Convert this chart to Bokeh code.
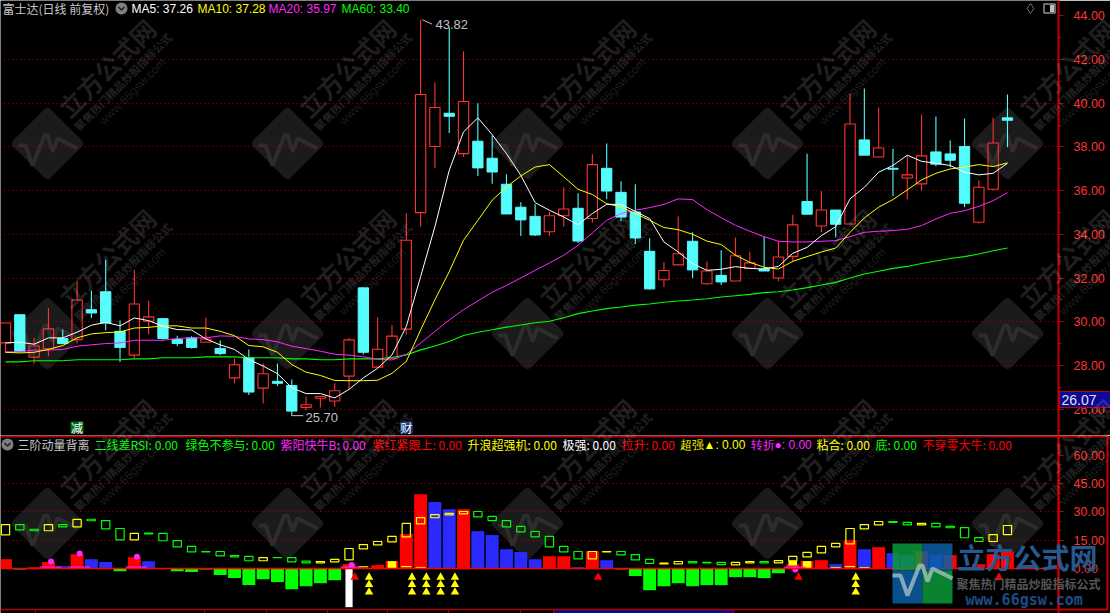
from bokeh.plotting import figure
from bokeh.layouts import column
from bokeh.models import Range1d, LinearAxis, FixedTicker, Grid, Span, Label, NumeralTickFormatter
from bokeh.embed import file_html
from bokeh.resources import INLINE
import math

# ---------------- data ----------------
open_ = [29.03,30.32,28.38,28.76,29.23,29.18,30.55,31.37,29.56,28.47,30.02,30.14,29.18,29.26,29.06,28.77,27.43,28.35,26.96,27.27,27.08,26.08,26.50,26.37,27.51,31.55,
         27.92,28.33,29.66,34.99,38.02,39.54,37.69,38.26,37.48,36.29,35.24,34.82,34.12,34.85,35.19,34.72,37.02,35.92,35.02,33.22,31.92,32.60,33.68,31.74,32.12,31.86,
         32.44,32.41,32.00,32.99,35.50,34.38,35.11,34.47,38.32,37.54,37.02,36.58,36.31,37.77,37.68,38.02,34.55,36.06,39.33]
close = [29.94,28.65,28.89,29.67,29.00,30.99,30.40,29.94,28.82,30.81,30.22,29.23,29.00,28.82,29.21,28.54,28.03,26.78,27.62,27.18,25.91,26.20,26.58,26.84,29.17,28.60,
         28.74,29.34,33.73,40.40,39.80,39.40,40.08,37.04,36.85,34.93,34.66,33.97,34.85,35.16,33.69,37.19,35.98,34.79,33.83,31.50,32.34,33.11,32.37,32.32,31.82,33.02,
         32.69,32.32,32.96,34.43,34.92,35.11,34.46,39.05,37.62,37.95,36.98,36.72,37.59,37.21,37.39,35.42,36.15,38.18,39.22]
high = [29.94,30.32,29.26,30.63,29.64,31.87,31.42,32.83,30.05,32.37,30.96,30.14,29.36,29.33,30.19,29.14,28.32,28.73,28.09,28.09,27.36,26.58,26.58,27.18,29.27,31.55,
        30.20,29.85,34.96,43.82,40.96,43.47,42.38,40.00,38.52,36.75,35.47,35.37,35.02,36.15,35.88,37.66,38.15,36.43,36.29,33.82,32.72,34.82,34.09,32.75,33.27,33.85,
        33.20,33.89,33.71,34.90,37.69,35.97,35.11,40.44,40.67,39.80,37.92,37.60,39.48,39.39,38.29,39.30,36.46,39.34,40.40]
low = [28.57,28.60,28.07,28.42,29.00,29.00,30.17,29.60,28.15,28.32,29.41,29.18,28.88,28.77,29.06,28.47,27.18,26.64,26.26,27.05,25.70,25.95,26.07,26.11,26.90,28.50,
       27.92,28.33,29.40,34.34,37.04,38.64,37.54,36.67,36.31,34.93,33.92,33.92,33.92,34.34,33.60,34.53,35.60,34.61,33.56,31.47,31.59,32.60,32.00,31.69,31.68,31.86,
       32.41,32.32,31.85,32.72,34.92,34.09,33.86,34.47,37.62,37.54,35.74,35.59,36.00,37.11,37.07,35.24,34.50,36.00,37.98]
ma5 = [29.03,29.06,28.97,29.26,29.26,29.52,29.84,29.97,29.81,30.17,30.05,29.79,29.64,29.62,29.21,28.94,28.73,28.27,27.97,27.62,26.98,26.71,26.71,26.51,26.90,27.43,
       27.87,28.48,29.78,32.06,34.35,36.93,38.69,39.33,38.56,37.69,36.70,35.45,35.10,34.79,34.44,34.95,35.37,35.37,35.05,34.72,33.65,33.19,32.66,32.35,32.40,32.52,
       32.44,32.41,32.53,33.13,33.40,33.94,34.35,35.62,36.15,36.84,37.15,37.62,37.34,37.25,37.15,36.84,36.72,36.79,37.25]
ma10 = [28.60,28.57,28.60,28.73,28.91,29.26,29.44,29.50,29.53,29.71,29.74,29.81,29.81,29.71,29.71,29.56,29.36,28.91,28.85,28.60,28.04,27.69,27.54,27.31,27.30,27.30,
        27.32,27.64,28.18,29.62,31.00,32.29,33.73,34.64,35.56,36.17,36.67,37.08,37.19,36.63,36.06,35.82,35.40,35.25,34.95,34.64,34.31,34.21,34.00,33.69,33.53,33.04,
        32.72,32.49,32.41,32.76,32.98,33.19,33.37,34.09,34.75,35.24,35.59,36.03,36.49,36.79,36.99,37.08,37.19,37.10,37.27]
ma20 = [28.62,28.62,28.70,28.70,28.73,28.88,28.94,29.00,29.03,29.15,29.15,29.15,29.23,29.26,29.26,29.35,29.33,29.21,29.18,29.08,28.88,28.77,28.65,28.51,28.47,28.39,
        28.28,28.25,28.51,29.02,29.55,30.08,30.55,30.95,31.35,31.66,32.00,32.35,32.69,33.04,33.50,34.06,34.64,34.95,35.10,35.22,35.37,35.62,35.59,35.13,34.76,34.41,
        34.14,33.89,33.68,33.65,33.65,33.68,33.71,33.89,34.09,34.14,34.17,34.23,34.40,34.70,34.96,35.08,35.28,35.54,35.91]
ma60 = [28.16,28.16,28.21,28.21,28.21,28.26,28.26,28.26,28.26,28.30,28.30,28.35,28.35,28.35,28.39,28.39,28.39,28.35,28.35,28.35,28.30,28.30,28.26,28.26,28.30,28.30,
        28.30,28.36,28.48,28.71,28.89,29.09,29.37,29.52,29.63,29.75,29.85,29.95,30.02,30.18,30.37,30.49,30.60,30.67,30.76,30.81,30.89,30.95,30.99,31.05,31.13,31.19,
        31.25,31.33,31.37,31.45,31.56,31.68,31.80,32.00,32.18,32.31,32.44,32.53,32.66,32.78,32.89,32.98,33.10,33.25,33.37]

hist = [4.95,-0.5,0.7,3.4,1.2,7.6,4.95,3.4,-1.4,6.0,3.9,0.0,-1.4,-1.9,-0.5,-3.5,-5.1,-8.8,-5.7,-7.2,-11.0,-9.4,-7.8,-6.2,2.3,0.0,
        1.8,3.9,18.2,39.4,35.2,31.4,31.4,19.8,17.7,10.2,8.7,4.9,6.5,6.5,0.7,9.2,4.4,-0.5,-4.0,-11.5,-9.4,-7.8,-9.4,-8.8,-8.8,-4.6,
        -4.6,-5.1,-2.5,2.3,3.9,4.4,2.3,15.0,10.2,11.3,8.1,7.1,9.2,7.1,7.1,0.7,2.3,7.6,9.2]
hist_kind = ["r","g","r","r","b","r","b","b","g","r","b","x","g","g","g","g","g","g","g","g","g","g","g","g","r","x",
             "r","r","r","r","b","b","r","b","b","b","b","b","r","r","b","r","b","g","g","g","g","g","g","g","g","g",
             "g","g","g","r","r","r","b","r","b","r","b","b","r","b","r","b","r","r","r"]

box_top = [23.3,23.3,20.8,23.3,23.3,26.0,26.1,25.4,21.2,18.6,18.7,18.6,14.8,11.7,9.0,9.0,6.9,6.4,5.8,5.8,5.8,3.9,3.7,4.8,10.6,12.7,
           14.3,17.0,23.9,27.0,28.6,29.2,30.2,30.2,27.6,25.4,22.3,19.6,17.0,11.7,9.0,9.0,9.0,9.0,7.4,4.8,2.8,3.7,3.7,3.2,3.2,3.2,
           3.7,3.7,4.2,6.4,8.5,11.7,13.3,21.2,23.3,24.9,24.9,24.4,23.9,23.9,22.3,21.7,16.4,18.0,22.8]
box_bot = [17.8,20.5,20.0,20.0,22.1,22.1,25.3,21.0,15.2,15.2,18.4,14.7,11.5,8.8,8.8,6.7,6.2,4.1,4.1,5.7,3.5,3.0,3.0,3.5,4.6,10.4,
           12.5,14.1,16.8,23.7,26.9,28.4,29.0,27.4,25.4,22.1,19.4,16.8,11.5,8.8,5.1,5.1,8.8,7.2,4.6,2.7,2.5,2.5,3.0,3.0,2.1,1.9,
           3.0,3.0,3.0,4.1,6.2,8.3,11.5,13.1,21.0,23.1,24.4,23.1,23.1,22.1,21.6,16.3,14.3,14.3,18.0]
box_kind = ["y","g","g","y","g","y","g","g","g","y","g","g","g","g","g","g","g","g","y","g","g","g","y","y","y","y",
            "y","y","y","y","y","y","y","g","g","g","g","g","g","g","g","y","y","g","g","g","y","y","g","g","g","y",
            "y","g","y","y","y","y","y","y","y","y","g","g","y","g","g","g","g","y","y"]

main_ticks = [26, 28, 30, 32, 34, 36, 38, 40, 42, 44]
lower_ticks = [0, 15, 30, 45, 60]
triple_days = [25, 28, 29, 30, 31, 59]
triple_levels = [-4.6, -8.5, -12.5]
red_tri_days = [24, 41, 55, 69]
dot_days = [3, 5, 9, 24, 55]
dot_vals = [3.7, 7.95, 6.2, 1.8, -0.5]
thin_days = [25, 28, 29, 58, 59, 60]
thin_vals = [0.9, 1.0, 0.5, 0.5, 1.0, 0.5]
solid_days = [27, 55, 56]
solid_top = [3.9, 4.1, 3.9]
solid_bot = [0.2, 1.6, 0.2]
spike_day = 24
spike_val = -20.5

CJK = "Noto Sans CJK SC"
lower_legend = [("二线差RSI: 0.00", 94, "#00ff00", CJK), ("绿色不参与: 0.00", 185, "#00ff00", CJK), ("紫阳快牛B: 0.00", 280, "#ff28ff", CJK),
                ("紫红紧跟上: 0.00", 372, "#ff0000", CJK), ("升浪超强机: 0.00", 467, "#ffff00", CJK), ("极强: 0.00", 562, "#ffffff", CJK),
                ("拉升: 0.00", 621, "#ff0000", CJK), ("超强▲: 0.00", 679, "#ffff00", "Liberation Sans"), ("转折●: 0.00", 750, "#ff28ff", "Liberation Sans"),
                ("粘合: 0.00", 816, "#ffff00", CJK), ("底: 0.00", 875, "#00ff00", CJK), ("不穿零大牛: 0.00", 922, "#ff0000", CJK)]
ma_legend = [("MA5: 37.26", 131, "#ffffff"), ("MA10: 37.28", 197, "#ffff00"),
             ("MA20: 35.97", 268, "#ff28ff"), ("MA60: 33.40", 341, "#00ff00")]

# ---------------- geometry (page pixels -> data) ----------------
def xd(px):
    return (px - 5) / 14.314
def ym(py):
    return 44 - (py - 15.3) / 21.85
def yl(py):
    return (568 - py) / 1.887

RED = "#ff3232"; CYAN = "#54fcfc"; DARK = "#c00000"; GRID = "#a80000"
days = list(range(len(close)))
xr = Range1d(xd(0), xd(1058))

def base(height, y0, y1):
    p = figure(width=1110, height=height, x_range=xr, y_range=Range1d(y0, y1), toolbar_location=None,
               output_backend="svg", x_axis_type=None, y_axis_type=None, min_border_left=0, min_border_top=0,
               min_border_bottom=0, min_border_right=52, background_fill_color="#000000",
               border_fill_color="#000000", outline_line_color=None)
    p.xgrid.visible = False
    p.ygrid.visible = False
    return p

def add_axis(p, ticks, minor, grid_ticks):
    ax = LinearAxis(ticker=FixedTicker(ticks=ticks, minor_ticks=minor), axis_line_color=DARK, axis_line_width=2,
                    major_tick_line_color=DARK, minor_tick_line_color=DARK, major_tick_in=0, major_tick_out=5,
                    minor_tick_in=0, minor_tick_out=3, major_label_text_color=RED,
                    major_label_text_font="Liberation Sans", major_label_text_font_size="12.5px",
                    major_label_standoff=10, formatter=NumeralTickFormatter(format="0.00"))
    p.add_layout(ax, "right")
    p.add_layout(Grid(dimension=1, ticker=FixedTicker(ticks=grid_ticks), grid_line_color=GRID,
                      grid_line_dash="1 3", grid_line_width=1))

def diamonds(p, yf, rows):
    for cy in rows:
        for cx in [47, 287, 527, 767, 1007]:
            p.rect([xd(cx)], [yf(cy)], width=44, height=44, width_units="screen", height_units="screen",
                   angle=math.pi/4, fill_color="#1b1b1b", line_color="#1b1b1b", line_width=9,
                   line_join="round", level="underlay")
            pts = [(-29,2),(-22,2),(-15,22),(-3,-8),(0,-8),(5,8),(10,-5),(30,5)]
            p.line([xd(cx+a) for a, b in pts], [yf(cy+b) for a, b in pts], line_color="#2d2d2d",
                   line_width=4, level="underlay")

def put(p, txt, x, y, col, size=12, font=CJK, style="normal", align="left"):
    p.add_layout(Label(x=x, y=y, text=txt, text_color=col, text_font=font, text_font_size=f"{size}px",
                       text_font_style=style, text_align=align, text_baseline="middle", level="overlay"))

# ---------------- main panel ----------------
p1 = base(435, ym(435), ym(0))
diamonds(p1, ym, [143, 333])
add_axis(p1, main_ticks, list(range(25, 45)), main_ticks[:-1])

up = [i for i in days if close[i] >= open_[i]]
dn = [i for i in days if close[i] < open_[i]]
WC = 0.72
p1.segment(up, [close[i] for i in up], up, [high[i] for i in up], line_color=RED, line_width=1.1)
p1.segment(up, [open_[i] for i in up], up, [low[i] for i in up], line_color=RED, line_width=1.1)
p1.vbar(up, WC, [open_[i] for i in up], [close[i] for i in up], fill_color=None, line_color=RED, line_width=1.1)
p1.segment(dn, [high[i] for i in dn], dn, [low[i] for i in dn], line_color=CYAN, line_width=1.1)
p1.vbar(dn, WC, [close[i] for i in dn], [open_[i] for i in dn], fill_color=CYAN, line_color=CYAN, line_width=1)

p1.line(days, ma60, line_color="#00ff00", line_width=1.1)
p1.line(days, ma20, line_color="#ff28ff", line_width=1)
p1.line(days, ma10, line_color="#ffff00", line_width=1)
p1.line(days, ma5, line_color="#ffffff", line_width=1)

hi = max(high); hi_i = high.index(hi)
lo = min(low); lo_i = low.index(lo)
p1.segment([hi_i + .12], [hi], [hi_i + .8], [hi - .2], line_color="#c0c0c0", line_width=1)
put(p1, f"{hi:.2f}", xd(435), ym(24), "#c0c0c0", 13, "Liberation Sans")
p1.segment([lo_i], [lo], [lo_i + .8], [lo], line_color="#c0c0c0", line_width=1)
put(p1, f"{lo:.2f}", xd(305), ym(417), "#c0c0c0", 13, "Liberation Sans")

put(p1, "富士达(日线 前复权)", xd(2), ym(8), "#c8c8c8", 12)
p1.scatter([xd(121)], [ym(8)], size=12, marker="circle", fill_color="#808080", line_color=None)
p1.line([xd(118), xd(121), xd(124)], [ym(6.5), ym(9.5), ym(6.5)], line_color="#1a1a1a", line_width=1.5)
for t, x, c in ma_legend:
    put(p1, t, xd(x), ym(8), c, 12, "Liberation Sans")
p1.scatter([xd(1030)], [ym(8)], size=10, marker="diamond", fill_color=None, line_color="#707070")
p1.rect([xd(1049)], [ym(8)], width=11, height=9, width_units="screen", height_units="screen",
        fill_color=None, line_color="#909090", line_width=1.5)
p1.rect([xd(1051.5)], [ym(8)], width=4, height=7, width_units="screen", height_units="screen",
        fill_color="#c0c0c0", line_color=None)

p1.rect([xd(76.5)], [ym(427)], width=13, height=12, width_units="screen", height_units="screen",
        fill_color="#006a14", line_color=None)
put(p1, "减", xd(76.5), ym(427), "#ffffff", 12, align="center")
p1.rect([xd(406)], [ym(427)], width=13, height=12, width_units="screen", height_units="screen",
        fill_color="#12306e", line_color=None)
put(p1, "财", xd(406), ym(427), "#ffffff", 12, align="center")

# ---------------- lower panel ----------------
p2 = base(178, yl(613), yl(435))
diamonds(p2, yl, [523])
add_axis(p2, lower_ticks, list(range(0, 70, 5)), [15, 30, 45])

colmap = {"r": "#ff0000", "b": "#2a2aff", "g": "#00ff00"}
hx = [i for i in days if hist_kind[i] != "x"]
p2.vbar(hx, 0.9, [0]*len(hx), [hist[i] for i in hx], fill_color=[colmap[hist_kind[i]] for i in hx], line_color=None)
p2.vbar(solid_days, 0.6, solid_bot, solid_top, fill_color="#ffff00", line_color=None)
p2.segment([i - .35 for i in thin_days], thin_vals, [i + .35 for i in thin_days], thin_vals, line_color="#ffff00", line_width=1.2)
p2.segment([i - .6 for i in dot_days], [0.7]*5, [i + .9 for i in dot_days], [0.7]*5, line_color="#ff28ff", line_width=1.2)
p2.vbar(days, 0.58, box_bot, box_top, fill_color=None, line_width=1.2,
        line_color=["#ffff00" if k == "y" else "#00ff00" for k in box_kind])
p2.add_layout(Span(location=0, dimension="width", line_color="#ff0000", line_width=1.6))
p2.scatter([d + .18 for d in dot_days], dot_vals, size=6, marker="circle", fill_color="#ff28ff", line_color=None)
p2.vbar([spike_day], 0.5, [0], [spike_val], fill_color="#ffffff", line_color=None)
for lv in triple_levels:
    p2.scatter([d + .4 for d in triple_days], [lv]*len(triple_days), size=8.5, marker="triangle",
               fill_color="#ffff00", line_color=None)
p2.scatter([d + .4 for d in red_tri_days], [-4.6]*len(red_tri_days), size=8.5, marker="triangle",
           fill_color="#ff0000", line_color=None)

p2.add_layout(Span(location=yl(436), dimension="width", line_color="#b00000", line_width=2))
p2.add_layout(Span(location=yl(609), dimension="width", line_color="#b00000", line_width=1.5))
tick_px = [35, 204, 266, 327, 387, 448, 520]
p2.segment([xd(t) for t in tick_px], [yl(609)]*7, [xd(t) for t in tick_px], [yl(613)]*7, line_color="#b00000", line_width=1)
p2.quad(left=[xd(553)], right=[xd(733)], top=[yl(609)], bottom=[yl(613)], fill_color="#0a0a8c", line_color="#b00000", line_width=1)

p2.scatter([xd(7)], [yl(444)], size=12, marker="circle", fill_color="#808080", line_color=None)
p2.line([xd(4), xd(7), xd(10)], [yl(442.5), yl(445.5), yl(442.5)], line_color="#1a1a1a", line_width=1.5)
put(p2, "三阶动量背离", xd(17), yl(444), "#c8c8c8", 12)
for t, x, c, f in lower_legend:
    put(p2, t, xd(x), yl(444), c, 12, f)

# ---------------- overlay: things that cross the axis strip, in page pixels ----------------
ov = figure(width=1110, height=613, x_range=Range1d(0, 1110), y_range=Range1d(613, 0), toolbar_location=None,
            output_backend="svg", x_axis_type=None, y_axis_type=None, min_border=0, outline_line_color=None,
            background_fill_alpha=0, border_fill_alpha=0,
            styles={"position": "absolute", "left": "0", "top": "0", "pointer-events": "none"})
ov.xgrid.visible = False
ov.ygrid.visible = False
for cy in [143, 333, 523]:
    for cx in [47, 287, 527, 767, 1007]:
        for txt, dx, dy, size, alpha, font, st in [
                ("立方公式网", 59, -76, 25, 0.13, CJK, "bold"),
                ("聚焦热门精品炒股指标公式", 75, -62, 11, 0.15, CJK, "bold"),
                ("www.66gsw.com", 85, -52, 12, 0.13, "Liberation Sans", "normal")]:
            ov.add_layout(Label(x=cx+dx, y=cy+dy, text=txt, angle=45, angle_units="deg", text_color="#ffffff",
                                text_alpha=alpha, text_font=font, text_font_size=f"{size}px", text_font_style=st,
                                text_align="center", text_baseline="middle"))
# price tag
ov.quad(left=[1059], right=[1110], top=[391], bottom=[407], fill_color="#0a0a96", line_color="#c00000", line_width=1)
put(ov, "26.07", 1061, 399.5, "#e0e0e0", 14, "Liberation Sans")
# frame round the lower axis strip
ov.quad(left=[1058], right=[1107], top=[436], bottom=[609], fill_color=None, line_color=DARK, line_width=2)
# corner logo
ov.quad(left=[892, 922, 892, 922], right=[922, 952, 922, 952], top=[543, 543, 570, 570], bottom=[570, 570, 603, 603],
        fill_color=["#0a9a3a", "#0b5fa5", "#0b5fa5", "#0a9a3a"], fill_alpha=0.85, line_color=None)
pts = [(-30,2),(-22,2),(-15,22),(-3,-8),(0,-8),(5,8),(10,-5),(30,5)]
ov.line([922+a for a, b in pts], [573+b for a, b in pts], line_color="#b0c4c8", line_alpha=0.75, line_width=4)
put(ov, "立方公式网", 957, 556, "#27588f", 28, CJK, "bold")
put(ov, "聚焦热门精品炒股指标公式", 956, 583, "#555555", 12, CJK, "bold")
put(ov, "www.66gsw.com", 965, 599, "#1f4a85", 15, "DejaVu Sans Mono", "bold")

page = column(column(p1, p2, spacing=0), ov, spacing=0, styles={"position": "absolute", "left": "0", "top": "0"})
open("out.html", "w").write(file_html(page, INLINE))
